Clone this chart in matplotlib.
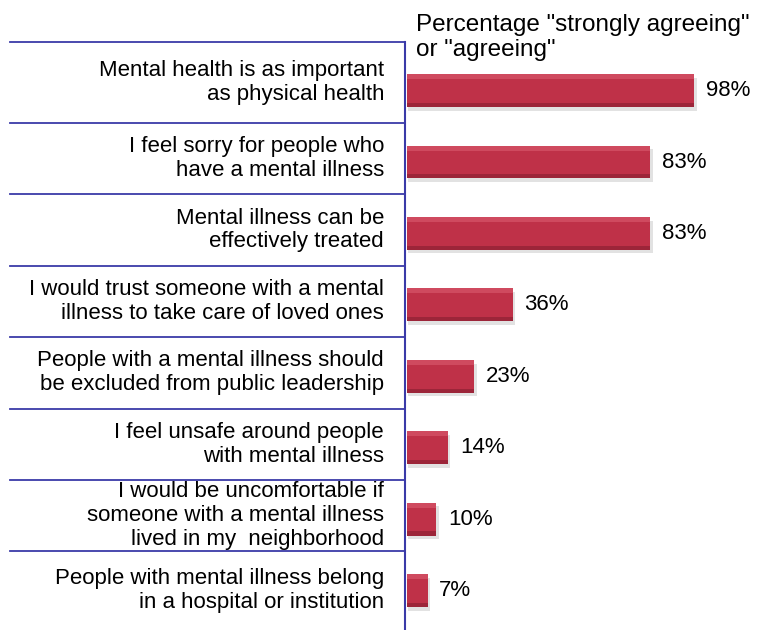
import matplotlib.pyplot as plt
import matplotlib.transforms as mtransforms
import numpy as np

plt.rcParams['font.family'] = ['Liberation Sans', 'DejaVu Sans']

# survey statements and share "strongly agreeing" or "agreeing"
statements = [
    "Mental health is as important\nas physical health",
    "I feel sorry for people who\nhave a mental illness",
    "Mental illness can be\neffectively treated",
    "I would trust someone with a mental\nillness to take care of loved ones",
    "People with a mental illness should\nbe excluded from public leadership",
    "I feel unsafe around people\nwith mental illness",
    "I would be uncomfortable if\nsomeone with a mental illness\nlived in my  neighborhood",
    "People with mental illness belong\nin a hospital or institution",
]
percent = [98, 83, 83, 36, 23, 14, 10, 7]

bar_color = '#bf3148'
light_color = '#cf4a5f'
dark_color = '#9c2539'
line_color = '#3a3aa8'

fig = plt.figure(figsize=(7.66, 6.30), dpi=100)
ax = fig.add_axes([405 / 766, 0, 361 / 766, 1 - 42 / 630])

n = len(percent)
y = np.arange(n)
h = 0.46
ylo, yhi = -0.68, 7.55

# soft shadow, then bar with a lighter top edge and darker bottom edge
ax.barh(y + 0.05, np.array(percent) + 0.5, height=h, left=0.3,
        color='#a0a0a0', alpha=0.3, zorder=1)
ax.barh(y, percent, height=h, color=bar_color, zorder=2)
ax.barh(y - h / 2 + 0.035, percent, height=0.07, color=light_color, zorder=3)
ax.barh(y + h / 2 - 0.03, percent, height=0.06, color=dark_color, zorder=3)

for yi, p in zip(y, percent):
    ax.text(p + 4.0, yi, f"{p}%", va='center', ha='left', fontsize=16)

ax.set_xlim(-0.7, 122.5)
ax.set_ylim(yhi, ylo)
ax.axis('off')

# category labels centred in cells, separators left of the axis
trans = mtransforms.blended_transform_factory(ax.transAxes, ax.transData)
seps = np.concatenate([[ylo], np.arange(1, n) - 0.55, [yhi]])
centers = (seps[:-1] + seps[1:]) / 2
for yc, s in zip(centers, statements):
    ax.text(-0.058, yc, s, transform=trans, ha='right', va='center',
            multialignment='right', fontsize=16, linespacing=1.17)

for sy in seps[:-1]:
    ax.plot([-1.094, 0], [sy, sy], transform=trans, color=line_color,
            lw=1.3, clip_on=False)
ax.plot([0, 0], [ylo, yhi], transform=trans, color=line_color,
        lw=1.5, clip_on=False)

fig.text(416 / 766, 1 - 14 / 630,
         'Percentage "strongly agreeing"\nor "agreeing"',
         ha='left', va='top', fontsize=17.5, linespacing=1.18)

fig.savefig('out.png', dpi=100)
